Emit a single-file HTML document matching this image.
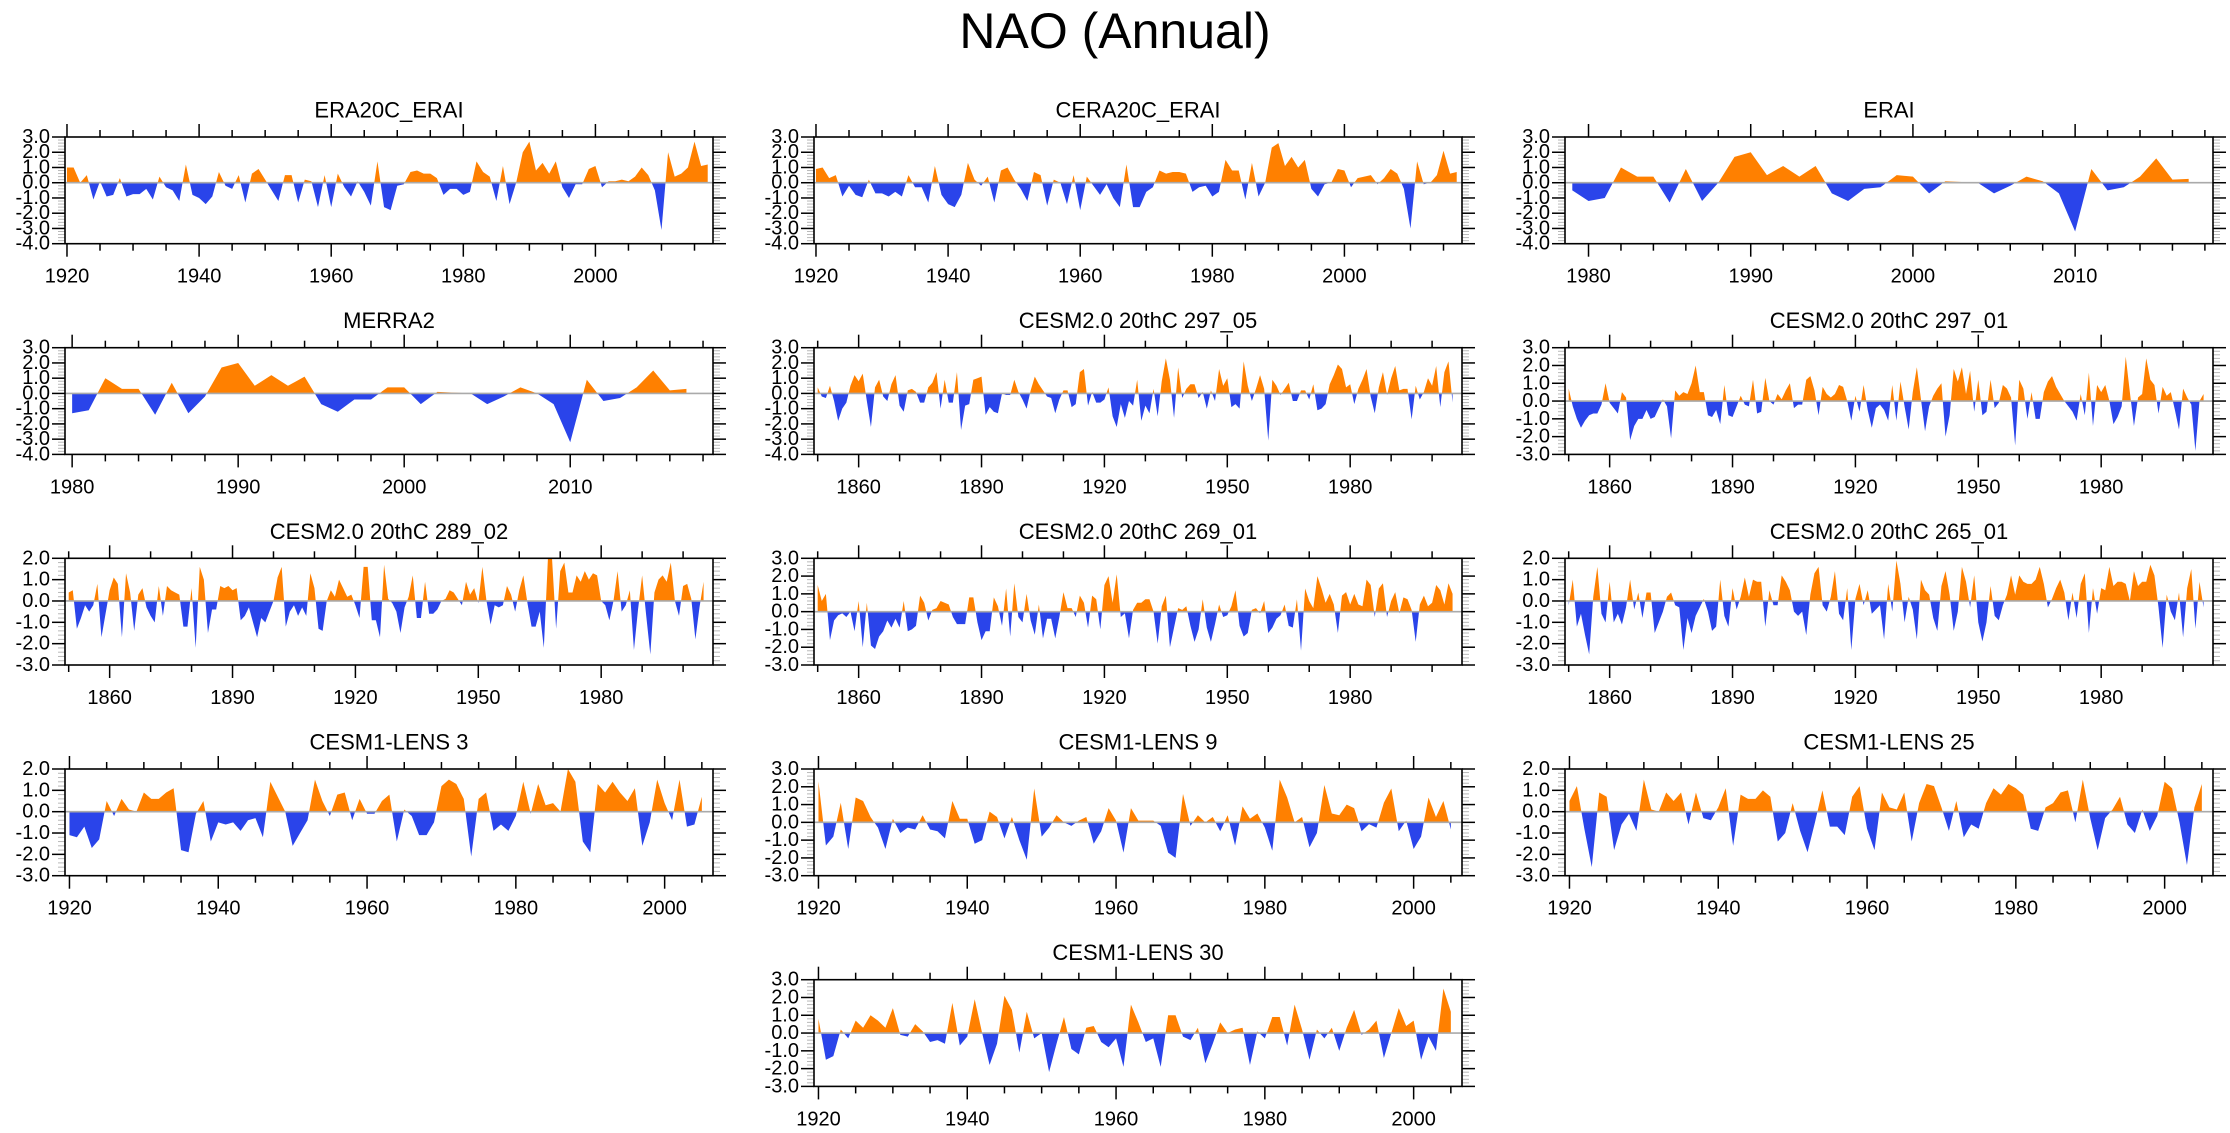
<!DOCTYPE html>
<html>
<head>
<meta charset="utf-8">
<title>NAO (Annual)</title>
<style>
  html,body{margin:0;padding:0;background:#fff;}
  body{width:2230px;height:1133px;overflow:hidden;}
  svg{display:block;font-family:"Liberation Sans",Arial,sans-serif;}
</style>
</head>
<body>
<svg id="chart" width="2230" height="1133" viewBox="0 0 2230 1133" xmlns="http://www.w3.org/2000/svg">
  <text x="1115" y="31" text-anchor="middle" dominant-baseline="central" font-size="50" fill="#000">NAO (Annual)</text>
</svg>
<script>
// ---------------- data (annual NAO index values) ----------------
const era20cVals = [1.0,1.0,0.0,0.5,-1.1,0.1,-0.9,-0.8,0.3,-0.9,
 -0.75,-0.75,-0.4,-1.1,0.4,-0.3,-0.5,-1.2,1.2,-0.8,
 -1.0,-1.4,-0.9,0.7,-0.2,-0.4,0.5,-1.3,0.6,0.9,
 0.2,-0.5,-1.2,0.5,0.5,-1.3,0.2,0.1,-1.6,0.5,
 -1.6,0.6,-0.3,-0.9,0.1,-0.6,-1.5,1.4,-1.6,-1.8,
 -0.2,-0.1,0.7,0.8,0.6,0.6,0.3,-0.8,-0.4,-0.4,
 -0.8,-0.6,1.4,0.7,0.4,-1.2,1.1,-1.4,0.0,2.0,
 2.7,0.8,1.3,0.6,1.4,-0.3,-1.0,-0.1,-0.1,0.9,
 1.1,-0.3,0.1,0.1,0.2,0.1,0.4,1.0,0.5,-0.5,
 -3.1,2.0,0.4,0.6,1.0,2.7,1.1,1.2];
const cera20cVals = [0.9,1.0,0.3,0.5,-0.9,-0.2,-0.8,-0.95,0.2,-0.7,
 -0.7,-0.9,-0.6,-0.9,0.5,-0.3,-0.3,-1.3,1.1,-0.8,
 -1.4,-1.6,-0.8,1.3,0.2,-0.2,0.4,-1.3,0.8,1.0,
 0.2,-0.4,-1.2,0.7,0.5,-1.5,0.2,0.0,-1.4,0.5,
 -1.8,0.4,-0.2,-0.8,-0.1,-1.0,-1.6,1.2,-1.6,-1.6,
 -0.6,-0.3,0.8,0.6,0.7,0.7,0.6,-0.6,-0.3,-0.2,
 -0.9,-0.6,1.5,0.8,0.8,-1.1,1.3,-0.9,0.0,2.3,
 2.6,1.1,1.7,1.0,1.5,-0.4,-0.9,-0.1,0.0,0.9,
 0.8,-0.3,0.3,0.4,0.5,-0.1,0.3,0.9,0.6,-0.4,
 -3.0,1.4,-0.1,0.0,0.5,2.1,0.6,0.7];
const eraiVals = [-0.5,-1.2,-1.0,1.0,0.4,0.4,-1.3,0.9,-1.2,0.0,
 1.7,2.0,0.5,1.1,0.4,1.1,-0.7,-1.2,-0.4,-0.3,
 0.5,0.4,-0.7,0.1,0.05,0.0,-0.7,-0.2,0.4,0.1,
 -0.7,-3.2,0.9,-0.5,-0.3,0.4,1.6,0.2,0.25];
const merra2Vals = [-1.3,-1.1,1.0,0.3,0.3,-1.4,0.7,-1.3,-0.2,1.7,
 2.0,0.5,1.2,0.5,1.1,-0.7,-1.2,-0.4,-0.4,0.4,
 0.4,-0.7,0.1,0.05,0.0,-0.7,-0.2,0.4,0.0,-0.7,
 -3.2,0.9,-0.5,-0.3,0.4,1.5,0.2,0.3];
const cesm297_05Vals = [0.4,-0.2,-0.3,0.5,-0.5,-1.8,-1.0,-0.6,0.5,1.2,
 0.8,1.3,-0.5,-2.2,0.4,0.9,-0.2,-0.5,0.6,1.2,
 -0.8,-1.2,0.2,0.3,0.1,-0.6,-0.6,0.4,0.7,1.4,
 -1.0,0.9,-0.6,-0.6,1.4,-2.4,-0.8,-0.7,0.9,1.0,
 1.1,-1.4,-0.9,-1.2,-1.3,0.0,-0.1,-0.1,0.9,0.1,
 -0.4,-1.0,0.2,1.1,0.6,0.2,-0.2,-0.3,-1.3,-0.4,
 0.2,0.2,-0.9,-0.7,1.4,1.6,-0.8,0.1,-0.6,-0.6,
 -0.4,0.4,-1.5,-2.2,-0.7,-1.6,-0.5,-0.8,0.9,-1.8,
 -0.8,-1.3,0.3,-1.5,0.8,2.3,0.9,-1.6,1.7,-0.3,
 0.3,0.6,0.6,-0.3,0.1,-1.0,0.2,-0.5,1.6,0.5,
 1.0,-0.9,-0.7,-1.0,2.1,0.5,-0.5,0.3,1.2,0.3,
 -3.1,0.9,0.5,-0.1,0.3,0.7,-0.5,-0.5,0.2,0.2,
 -0.4,0.6,-1.1,-1.0,-0.7,0.6,1.2,1.9,1.6,0.4,
 0.6,-0.7,0.3,0.9,1.6,-0.2,-1.3,0.4,1.4,-0.1,
 1.0,1.8,0.2,0.3,0.3,-1.7,0.5,-0.4,0.1,1.0,
 0.5,1.8,-0.9,1.4,2.1,-0.6];
const cesm297_01Vals = [0.7,-0.3,-1.0,-1.5,-1.1,-0.8,-0.7,-0.7,-0.2,1.0,
 -0.1,-0.4,-0.7,0.5,0.2,-2.2,-1.4,-1.0,-1.0,-0.5,
 -1.0,-0.9,-0.4,0.1,-0.3,-2.1,0.6,0.3,0.5,0.4,
 1.0,2.0,0.5,0.5,-0.8,-0.9,-0.5,-1.3,0.9,-0.8,
 -0.9,-0.3,0.3,-0.2,-0.3,1.2,-0.7,-0.6,1.3,0.0,
 -0.2,0.4,0.1,0.6,1.0,-0.4,-0.2,-0.2,1.2,1.4,
 0.6,-0.8,0.8,0.4,0.2,0.4,0.9,0.8,0.0,-1.1,
 0.3,-0.6,0.9,-0.5,-1.5,-0.4,-0.2,-0.5,-1.1,0.9,
 -1.1,1.1,-0.3,-1.6,0.5,1.9,0.1,-1.7,-0.3,0.3,
 0.7,1.0,-2.0,-0.8,1.8,1.1,1.9,0.4,1.7,-0.6,
 1.2,-0.8,-0.6,1.2,-0.4,-0.1,0.9,0.7,0.2,-2.5,
 1.2,0.7,-1.0,0.5,-1.0,-1.0,0.5,1.1,1.4,0.8,
 0.4,0.0,-0.3,-0.6,-1.1,0.4,-0.8,1.6,-1.4,0.9,
 0.5,0.9,0.0,-1.3,-0.9,-0.3,2.5,0.5,-1.4,0.2,
 0.4,2.4,1.2,0.9,-0.7,0.8,0.3,0.5,-0.5,-1.6,
 0.7,0.2,-0.2,-2.8,0.0,0.4];
const cesm289_02Vals = [0.4,0.5,-1.3,-0.8,-0.2,-0.5,-0.2,0.8,-1.7,-0.6,
 0.5,1.1,0.8,-1.7,1.3,0.4,-1.4,0.3,0.6,-0.3,
 -0.7,-1.0,0.7,-0.7,0.7,0.5,0.4,0.3,-1.2,-1.2,
 0.6,-2.2,1.6,1.0,-1.5,-0.4,-0.4,0.7,0.6,0.7,
 0.5,0.6,-0.9,-0.7,-0.3,-1.0,-1.7,-0.8,-1.0,-0.5,
 0.0,1.1,1.6,-1.2,-0.5,-0.2,-0.7,-0.3,-0.7,1.3,
 0.6,-1.3,-1.4,0.0,0.5,0.2,1.0,0.6,0.2,0.3,
 -0.2,-0.8,1.6,1.6,-0.9,-0.9,-1.7,1.7,0.1,-0.1,
 -0.5,-1.5,-0.3,0.2,1.2,-0.8,-0.8,0.9,-0.6,-0.6,
 -0.4,0.0,0.1,0.5,0.4,0.1,-0.2,0.9,0.3,0.6,
 -0.1,1.6,0.0,-1.1,-0.2,-0.3,-0.2,0.7,0.3,-0.5,
 0.5,1.2,-0.1,-1.2,-1.2,-0.5,-2.2,2.0,2.0,-1.3,
 1.4,1.8,0.4,0.4,1.2,0.9,1.4,1.0,1.3,1.2,
 0.0,-0.2,-0.9,0.0,1.4,-0.5,-0.2,0.5,-2.3,-0.4,
 1.2,-0.7,-2.5,0.4,1.0,1.2,0.9,1.8,0.0,-0.7,
 0.7,0.8,0.1,-1.8,-0.3,0.9];
const cesm269_01Vals = [1.5,0.6,1.0,-1.6,-0.5,-0.2,-0.1,-0.3,0.0,-1.1,
 0.6,-2.0,0.5,-1.9,-2.1,-1.4,-1.1,-0.5,-0.9,-0.4,
 -0.9,0.6,-1.1,-1.0,-0.8,0.9,0.5,-0.5,0.1,0.2,
 0.6,0.5,0.4,-0.3,-0.7,-0.7,-0.7,0.8,0.8,-0.6,
 -1.6,-1.1,-1.1,0.8,0.3,-0.8,1.3,-1.4,1.6,-0.3,
 -0.6,1.0,-0.5,-1.3,0.4,-1.5,-0.4,-0.4,-1.5,-0.3,
 1.1,0.2,0.2,-0.3,0.9,0.5,-0.9,0.9,0.7,-1.0,
 1.5,2.0,0.5,2.1,-0.3,-0.1,-1.5,0.1,0.5,0.5,
 0.7,0.7,0.0,-1.8,0.3,0.9,-2.0,-0.9,0.2,0.1,
 0.3,-0.8,-1.7,-1.0,0.7,-0.9,-1.7,-0.7,0.4,-0.3,
 -0.2,0.3,1.2,-0.8,-1.4,-1.2,0.1,0.2,-0.1,0.6,
 -1.2,-0.9,-0.4,-0.2,0.4,-0.8,-0.9,0.7,-2.2,1.3,
 0.6,0.2,2.0,1.3,0.5,1.0,0.4,-1.2,0.9,1.1,
 0.4,1.0,0.4,0.3,1.8,1.5,-0.3,1.3,1.6,-0.3,
 0.6,1.1,-0.1,0.8,0.7,0.1,-1.7,0.4,0.9,0.3,
 0.5,1.5,1.2,0.4,1.6,1.0];
const cesm265_01Vals = [-0.2,1.0,-1.2,-0.6,-1.6,-2.5,0.2,1.6,-0.6,-1.0,
 0.9,-1.0,-0.6,-1.1,-0.3,1.0,-0.4,0.4,-0.8,0.4,
 0.4,-1.5,-1.0,-0.5,0.2,0.4,-0.2,-0.3,-2.3,-0.8,
 -1.5,-0.7,-0.3,0.1,-0.5,-1.4,-1.2,1.0,-0.7,-1.2,
 0.6,-0.4,0.2,1.1,0.2,1.0,0.9,0.9,-1.2,0.5,
 -0.2,-0.2,1.2,0.9,0.5,-0.5,-0.7,-0.5,-1.6,0.3,
 1.3,1.6,-0.2,-0.5,0.2,1.4,-0.6,-0.9,0.6,-2.3,
 0.1,0.8,-0.2,0.5,-0.6,-0.4,-0.2,-1.8,0.8,-0.5,
 1.9,0.8,-1.0,0.2,-0.4,-1.8,1.0,0.5,0.3,-0.8,
 -1.4,0.7,1.4,0.3,-1.4,-0.5,1.6,0.9,-0.3,1.2,
 -1.0,-1.9,-1.0,0.7,-0.7,-0.9,-0.2,0.3,1.2,0.3,
 1.2,0.9,0.8,0.8,1.0,1.6,0.8,-0.3,0.1,0.6,
 1.0,0.4,-0.9,0.4,-0.8,0.8,1.3,-1.5,0.6,-0.6,
 0.6,0.5,1.6,0.7,0.9,0.9,0.8,0.0,1.4,0.7,
 0.9,0.9,1.7,1.2,-0.3,-2.2,0.3,-0.5,-0.9,0.4,
 -1.7,0.6,1.5,-1.3,0.9,-0.3];
const lens3Vals = [-1.1,-1.2,-0.7,-1.7,-1.3,0.5,-0.2,0.6,0.1,0.0,
 0.9,0.6,0.6,0.9,1.1,-1.8,-1.9,-0.1,0.5,-1.4,
 -0.5,-0.6,-0.5,-0.9,-0.4,-0.3,-1.2,1.4,0.7,0.0,
 -1.6,-1.0,-0.4,1.5,0.5,-0.2,0.8,0.9,-0.4,0.6,
 -0.1,-0.1,0.5,0.8,-1.4,0.1,-0.2,-1.1,-1.1,-0.5,
 1.2,1.5,1.3,0.6,-2.1,0.6,0.9,-0.9,-0.6,-0.9,
 -0.2,1.4,-0.1,1.3,0.3,0.4,0.0,2.0,1.4,-1.4,
 -1.9,1.3,0.9,1.4,0.9,0.5,1.1,-1.6,-0.5,1.5,
 0.4,-0.4,1.5,-0.7,-0.6,0.7];
const lens9Vals = [2.3,-1.3,-0.8,1.1,-1.5,1.4,1.2,0.3,-0.3,-1.5,
 0.2,-0.6,-0.3,-0.4,0.4,-0.4,-0.5,-0.9,1.2,0.2,
 0.2,-1.2,-1.0,0.6,0.3,-0.9,0.3,-1.0,-2.1,1.9,
 -0.8,-0.3,0.4,0.0,-0.2,0.1,0.3,-1.2,-0.5,0.8,
 0.1,-1.7,0.8,0.1,0.1,0.1,-0.2,-1.7,-2.0,1.6,
 -0.2,0.4,0.0,0.3,-0.5,0.4,-1.3,0.9,0.2,0.5,
 -0.3,-1.6,2.4,1.4,0.0,0.3,-1.4,-0.6,2.1,0.5,
 0.4,1.0,0.8,-0.5,-0.1,-0.3,1.1,1.9,-0.5,0.1,
 -1.5,-0.8,1.4,0.3,1.2,-0.4];
const lens25Vals = [0.5,1.2,-0.8,-2.6,0.9,0.7,-1.8,-0.6,-0.1,-0.9,
 1.5,0.1,0.0,0.9,0.5,0.9,-0.6,0.9,-0.3,-0.4,
 0.2,1.1,-1.6,0.8,0.6,0.6,1.0,0.7,-1.4,-1.0,
 0.4,-0.9,-1.9,-0.5,1.0,-0.7,-0.7,-1.1,0.7,1.2,
 -0.8,-1.8,0.9,0.2,0.1,0.9,-1.4,0.4,1.3,1.2,
 0.2,-0.9,0.5,-1.2,-0.6,-0.8,0.4,1.1,0.8,1.3,
 1.1,0.8,-0.8,-0.9,0.2,0.4,0.9,1.0,-0.5,1.5,
 -0.3,-1.8,-0.3,0.1,0.7,-0.6,-1.0,0.1,-0.9,-0.2,
 1.4,1.1,-0.5,-2.5,0.2,1.3];
const lens30Vals = [0.8,-1.5,-1.3,0.2,-0.3,0.7,0.3,1.0,0.7,0.3,
 1.4,-0.1,-0.2,0.5,0.1,-0.5,-0.4,-0.6,1.7,-0.7,
 -0.2,1.9,0.0,-1.8,-0.6,2.1,1.3,-1.1,1.2,-0.3,
 0.0,-2.2,-0.6,0.9,-0.9,-1.2,0.3,0.4,-0.5,-0.8,
 -0.3,-1.9,1.6,0.6,-0.5,-0.3,-1.9,1.0,1.0,-0.2,
 -0.4,0.3,-1.7,-0.6,0.6,0.0,0.2,0.3,-1.8,0.1,
 -0.3,0.9,0.9,-0.7,1.6,0.2,-1.5,0.2,-0.3,0.3,
 -1.0,0.3,1.3,-0.1,0.2,0.7,-1.4,0.0,1.4,0.4,
 0.7,-1.5,-0.2,-1.0,2.5,1.2];

const panelTitles = ["ERA20C_ERAI","CERA20C_ERAI","ERAI","MERRA2","CESM2.0 20thC 297_05","CESM2.0 20thC 297_01",
  "CESM2.0 20thC 289_02","CESM2.0 20thC 269_01","CESM2.0 20thC 265_01","CESM1-LENS 3","CESM1-LENS 9","CESM1-LENS 25","CESM1-LENS 30"];
const panelStartYears = [1920,1920,1979,1980,1850,1850,1850,1850,1850,1920,1920,1920,1920];
const panelYMin = [-4,-4,-4,-4,-4,-3,-3,-3,-3,-3,-3,-3,-3];
const panelYMax = [3,3,3,3,3,3,2,3,2,2,3,2,3];
const panelSeries = [era20cVals,cera20cVals,eraiVals,merra2Vals,cesm297_05Vals,cesm297_01Vals,
  cesm289_02Vals,cesm269_01Vals,cesm265_01Vals,lens3Vals,lens9Vals,lens25Vals,lens30Vals];

// ---------------- layout (not data) ----------------
const NS = "http://www.w3.org/2000/svg";
const svg = document.getElementById("chart");
const colX = [65, 814, 1565];
const rowY = [137, 347.7, 558.3, 769, 979.7];
const BW = 648, BH = 106.7;
const cells = [[0,0],[1,0],[2,0],[0,1],[1,1],[2,1],[0,2],[1,2],[2,2],[0,3],[1,3],[2,3],[1,4]];
const axisSpec = [
  {xr:[1919.7,2017.8], maj:[1920,2000,20], minStep:5},
  {xr:[1919.7,2017.8], maj:[1920,2000,20], minStep:5},
  {xr:[1978.55,2018.5], maj:[1980,2010,10], minStep:2},
  {xr:[1979.57,2018.6], maj:[1980,2010,10], minStep:2},
  {xr:[1849.1,2007.3], maj:[1860,1980,30], minStep:10},
  {xr:[1849.1,2007.3], maj:[1860,1980,30], minStep:10},
  {xr:[1849.1,2007.3], maj:[1860,1980,30], minStep:10},
  {xr:[1849.1,2007.3], maj:[1860,1980,30], minStep:10},
  {xr:[1849.1,2007.3], maj:[1860,1980,30], minStep:10},
  {xr:[1919.4,2006.5], maj:[1920,2000,20], minStep:5},
  {xr:[1919.4,2006.5], maj:[1920,2000,20], minStep:5},
  {xr:[1919.4,2006.5], maj:[1920,2000,20], minStep:5},
  {xr:[1919.4,2006.5], maj:[1920,2000,20], minStep:5}
];
const ORANGE = "#ff8000", BLUE = "#2a44ea";

function mk(tag, attrs, parent){
  const e = document.createElementNS(NS, tag);
  for (const k in attrs) e.setAttribute(k, attrs[k]);
  parent.appendChild(e);
  return e;
}
function slug(s){ return s.toLowerCase().replace(/[^a-z0-9]+/g,'-').replace(/^-|-$/g,''); }

panelTitles.forEach(function(title, i){
  const x0 = colX[cells[i][0]], y0 = rowY[cells[i][1]];
  const ax = axisSpec[i];
  const ymin = panelYMin[i], ymax = panelYMax[i];
  const vals = panelSeries[i], start = panelStartYears[i];
  const X = function(yr){ return x0 + (yr - ax.xr[0]) / (ax.xr[1] - ax.xr[0]) * BW; };
  const Y = function(v){ return y0 + (ymax - v) / (ymax - ymin) * BH; };
  const key = slug(title);

  const g = mk("g", {}, svg);
  
  

  const t = mk("text", {x: x0 + BW/2, y: y0 - 27, "text-anchor":"middle", "dominant-baseline":"central", "font-size":"22", fill:"#000"}, g);
  t.textContent = title;
  
  

  const y0v = Y(0);
  const defs = mk("defs", {}, g);
  const cpA = mk("clipPath", {id: "above-" + i}, defs);
  mk("rect", {x: x0, y: y0, width: BW, height: y0v - y0}, cpA);
  const cpB = mk("clipPath", {id: "below-" + i}, defs);
  mk("rect", {x: x0, y: y0v, width: BW, height: y0 + BH - y0v}, cpB);

  let d = "M" + X(start).toFixed(2) + "," + y0v.toFixed(2);
  vals.forEach(function(v, k){ d += " L" + X(start + k).toFixed(2) + "," + Y(v).toFixed(2); });
  d += " L" + X(start + vals.length - 1).toFixed(2) + "," + y0v.toFixed(2) + " Z";

  const pa = mk("path", {d: d, fill: ORANGE, "clip-path": "url(#above-" + i + ")"}, g);
  
  
  const pb = mk("path", {d: d, fill: BLUE, "clip-path": "url(#below-" + i + ")"}, g);
  
  

  const zl = mk("line", {x1: x0, x2: x0 + BW, y1: y0v, y2: y0v, stroke: "#aaaaaa", "stroke-width": 1.6}, g);
  
  

  for (let k = 0; k <= (ymax - ymin) * 5; k++) {
    const v = ymin + k * 0.2;
    const yy = Y(v);
    const isMaj = k % 5 === 0;
    const len = isMaj ? 13 : 7;
    const col = isMaj ? "#000" : "#b8b8b8";
    mk("line", {x1: x0 - len, x2: x0, y1: yy, y2: yy, stroke: col, "stroke-width": isMaj ? 1.5 : 1}, g);
    mk("line", {x1: x0 + BW, x2: x0 + BW + len, y1: yy, y2: yy, stroke: col, "stroke-width": isMaj ? 1.5 : 1}, g);
    if (isMaj) {
      const lb = mk("text", {x: x0 - 15, y: yy, "text-anchor": "end", "dominant-baseline": "central", "font-size": "20", fill: "#000"}, g);
      lb.textContent = Math.round(v).toFixed(1);
      
      
    }
  }
  const firstMin = Math.ceil(ax.xr[0] / ax.minStep) * ax.minStep;
  for (let yr = firstMin; yr <= ax.xr[1]; yr += ax.minStep) {
    const xx = X(yr);
    const isMaj = yr >= ax.maj[0] && yr <= ax.maj[1] && (yr - ax.maj[0]) % ax.maj[2] === 0;
    const len = isMaj ? 13 : 7;
    mk("line", {x1: xx, x2: xx, y1: y0 - len, y2: y0, stroke: "#000", "stroke-width": 1.5}, g);
    mk("line", {x1: xx, x2: xx, y1: y0 + BH, y2: y0 + BH + len, stroke: "#000", "stroke-width": 1.5}, g);
    if (isMaj) {
      const xl = mk("text", {x: xx, y: y0 + BH + 33, "text-anchor": "middle", "dominant-baseline": "central", "font-size": "20", fill: "#000"}, g);
      xl.textContent = String(yr);
      
      
    }
  }
  const box = mk("rect", {x: x0, y: y0, width: BW, height: BH, fill: "none", stroke: "#000", "stroke-width": 1.6}, g);
  
  
});
</script>
</body>
</html>
